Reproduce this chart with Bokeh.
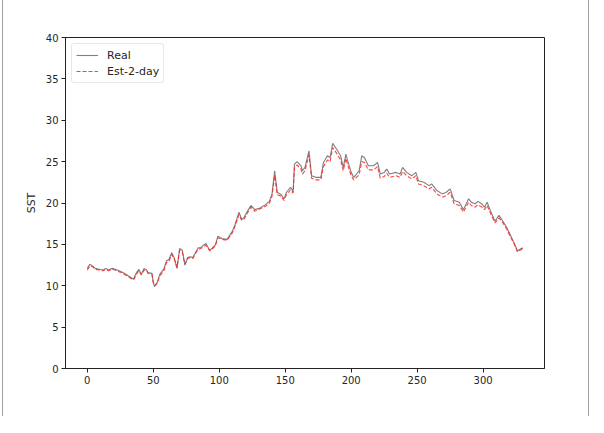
from bokeh.plotting import figure
from bokeh.models import Range1d, FixedTicker, Legend, LegendItem
from bokeh.embed import file_html
from bokeh.resources import INLINE

# day index of each read-off point
day = [0, 2, 4, 6, 9, 12, 14, 16, 19, 21, 24, 27, 30, 33, 35, 37, 39, 41, 43, 45,
       46, 49, 50, 51, 53, 55, 58, 60, 62, 64, 66, 68, 70, 72, 74, 76, 78, 80, 82, 84,
       86, 88, 90, 92, 93, 95, 97, 99, 102, 106, 110, 112, 115, 117, 119, 121, 124, 127, 131, 135,
       138, 140, 142, 144, 147, 149, 151, 154, 156, 157, 159, 162, 163, 165, 168, 170, 173, 177, 179, 182,
       184, 186, 189, 192, 194, 196, 197, 200, 202, 206, 208, 210, 213, 217, 220, 222, 225, 227, 229, 234,
       237, 239, 242, 246, 249, 251, 255, 259, 261, 265, 269, 272, 275, 278, 282, 285, 289, 291, 294, 296,
       299, 301, 303, 306, 309, 312, 315, 318, 321, 324, 326, 328, 330]

real = [12.1, 12.6, 12.4, 12.1, 12.0, 11.9, 12.1, 11.9, 12.1, 12.0, 11.8, 11.6, 11.3, 11.0, 10.8, 11.5, 12.0, 11.4, 12.1, 11.9,
        11.6, 11.5, 10.4, 9.9, 10.4, 11.4, 12.0, 13.0, 13.2, 14.0, 13.3, 12.1, 14.5, 14.3, 12.5, 13.4, 13.5, 13.4, 14.0, 14.6,
        14.6, 14.9, 15.1, 14.5, 14.3, 14.6, 14.9, 16.0, 15.7, 15.6, 16.6, 17.4, 18.9, 18.0, 18.3, 18.9, 19.7, 19.2, 19.4, 19.8,
        20.2, 21.1, 23.9, 21.3, 21.0, 20.5, 21.3, 21.9, 21.4, 24.7, 25.0, 24.5, 23.9, 24.3, 26.3, 23.3, 23.1, 23.1, 24.9, 25.7,
        25.5, 27.2, 26.5, 25.7, 24.3, 25.9, 25.3, 23.7, 23.1, 23.9, 25.7, 25.5, 24.5, 24.5, 24.9, 23.5, 23.7, 24.1, 23.5, 23.7,
        23.5, 24.3, 23.7, 23.3, 23.7, 22.7, 22.5, 22.1, 22.3, 21.5, 21.1, 21.3, 21.7, 20.3, 20.1, 19.2, 20.5, 20.1, 19.9, 20.2,
        19.9, 19.5, 20.1, 18.9, 17.8, 18.5, 17.8, 17.0, 16.0, 15.0, 14.2, 14.4, 14.6]

est = [11.9, 12.4, 12.3, 12.0, 11.9, 11.8, 12.0, 11.8, 12.0, 11.9, 11.7, 11.5, 11.2, 10.9, 10.7, 11.3, 11.8, 11.3, 11.9, 11.8,
       11.5, 11.4, 10.4, 10.0, 10.3, 11.2, 11.8, 12.8, 13.0, 13.8, 13.2, 12.2, 14.3, 14.1, 12.6, 13.3, 13.4, 13.3, 13.9, 14.4,
       14.5, 14.7, 14.9, 14.4, 14.2, 14.5, 14.8, 15.8, 15.6, 15.5, 16.4, 17.2, 18.6, 17.9, 18.1, 18.7, 19.5, 19.0, 19.3, 19.6,
       20.0, 20.8, 23.3, 21.0, 20.8, 20.3, 21.0, 21.6, 21.2, 24.2, 24.6, 24.1, 23.5, 23.9, 25.8, 23.0, 22.8, 22.8, 24.4, 25.2,
       25.0, 26.7, 26.0, 25.2, 23.9, 25.4, 24.8, 23.3, 22.8, 23.4, 25.0, 24.9, 24.0, 24.0, 24.4, 23.0, 23.2, 23.6, 23.1, 23.3,
       23.1, 23.8, 23.3, 22.9, 23.3, 22.3, 22.1, 21.7, 21.9, 21.1, 20.7, 20.9, 21.3, 19.9, 19.7, 18.9, 20.1, 19.7, 19.5, 19.8,
       19.5, 19.2, 19.7, 18.6, 17.6, 18.2, 17.6, 16.8, 15.8, 14.9, 14.1, 14.3, 14.5]

x_ticks = [0, 50, 100, 150, 200, 250, 300]
y_ticks = [0, 5, 10, 15, 20, 25, 30, 35, 40]

p = figure(frame_width=479, frame_height=331,
           min_border_left=62, min_border_right=44, min_border_top=41, min_border_bottom=48,
           x_range=Range1d(-16.5, 346.5), y_range=Range1d(0, 40),
           output_backend="svg", toolbar_location=None)
p.styles = {"border-top": "1px solid #a0a0a0", "border-left": "1px solid #a0a0a0",
            "border-right": "1px solid #a0a0a0", "margin-top": "-5px", "margin-left": "2px"}

r1 = p.line(day, real, line_color="#7f7f7f", line_width=1.1)
r2 = p.line(day, est, line_color="#ff2020", line_width=1.1, line_dash="4 2", line_alpha=0.85)

p.xgrid.visible = False
p.ygrid.visible = False
p.outline_line_color = "#222222"
p.outline_line_width = 1

for ax in (p.xaxis[0], p.yaxis[0]):
    ax.major_label_text_font = "DejaVu Sans"
    ax.major_label_text_font_size = "10px"
    ax.major_label_text_color = "#262626"
    ax.axis_line_color = "#222222"
    ax.major_tick_line_color = "#222222"
    ax.major_tick_in = 0
    ax.major_tick_out = 4
    ax.minor_tick_line_color = None
    ax.major_label_standoff = 3

p.xaxis.ticker = FixedTicker(ticks=x_ticks)
p.yaxis.ticker = FixedTicker(ticks=y_ticks)
p.yaxis.axis_label = "SST"
p.yaxis.axis_label_text_font = "DejaVu Sans"
p.yaxis.axis_label_text_font_size = "11px"
p.yaxis.axis_label_text_font_style = "normal"
p.yaxis.axis_label_text_color = "#262626"
p.yaxis.axis_label_standoff = 5

legend = Legend(items=[LegendItem(label="Real", renderers=[r1]),
                       LegendItem(label="Est-2-day", renderers=[r2])],
                location="top_left")
legend.label_text_font = "DejaVu Sans"
legend.label_text_font_size = "11px"
legend.label_text_color = "#262626"
legend.border_line_color = "#d0d0d0"
legend.border_line_width = 1
legend.border_radius = 3
legend.margin = 6
legend.padding = 4
legend.spacing = 2
legend.glyph_width = 22
legend.glyph_height = 14
legend.label_height = 14
legend.label_standoff = 9
p.add_layout(legend)

open("out.html", "w").write(file_html(p, INLINE))
